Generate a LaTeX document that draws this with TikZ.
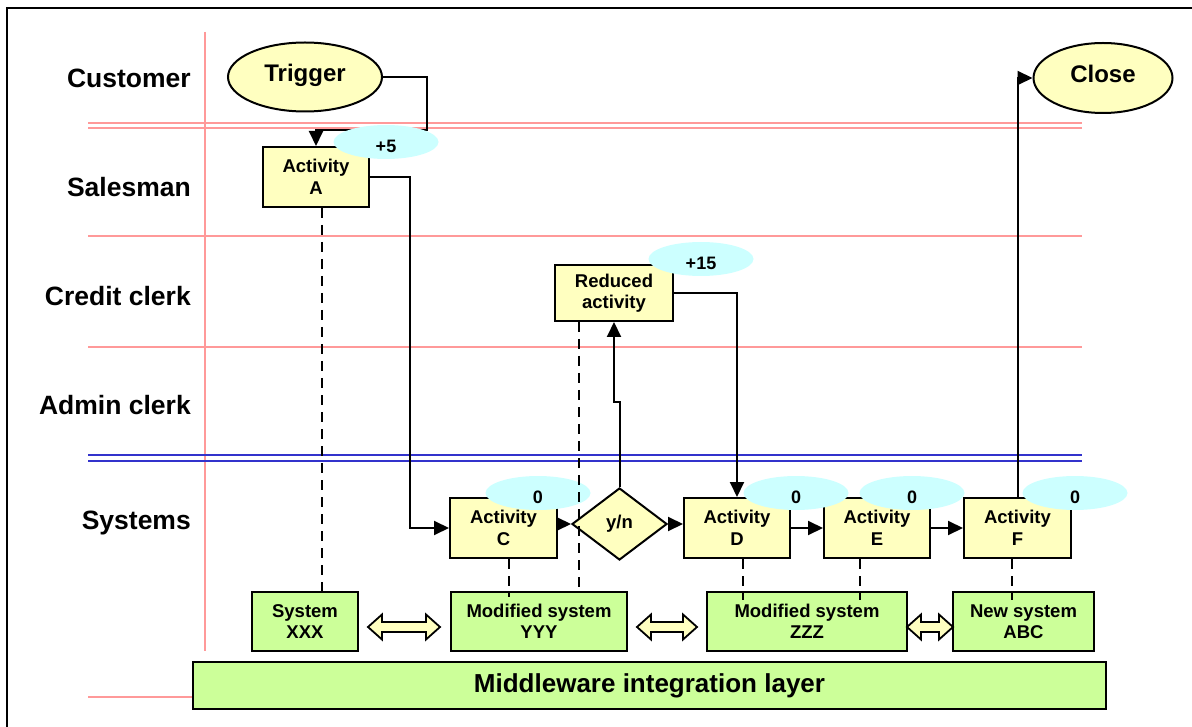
\documentclass[tikz,border=0pt]{standalone}
\usepackage{fontspec}
\setmainfont{Liberation Sans}
\usetikzlibrary{arrows.meta,shapes.geometric,calc}

\definecolor{lanepink}{RGB}{255,153,153}
\definecolor{laneblue}{RGB}{51,51,204}
\definecolor{actyellow}{RGB}{255,255,192}
\definecolor{sysgreen}{RGB}{204,255,153}
\definecolor{timecyan}{RGB}{204,255,255}

\tikzset{
  lane/.style={line width=2pt, lanepink},
  sysline/.style={line width=2.2pt, laneblue},
  lanelabel/.style={anchor=east, inner sep=0, font=\bfseries\fontsize{26.5}{30}\selectfont},
  actbox/.style={rectangle, draw, line width=2pt, fill=actyellow, align=center, inner sep=0,
    minimum width=106pt, minimum height=60pt,
    execute at begin node={\rule{0pt}{19.5pt}},
    font=\bfseries\fontsize{18.5}{21.5}\selectfont},
  event/.style={ellipse, draw, line width=2pt, fill=actyellow, inner sep=0,
    text height=17pt, text depth=7pt, font=\bfseries\fontsize{24}{28}\selectfont},
  decision/.style={diamond, draw, line width=2pt, fill=actyellow, inner sep=0,
    minimum width=95pt, minimum height=72pt, font=\bfseries\fontsize{18.5}{21.5}\selectfont},
  sysbox/.style={rectangle, draw, line width=2pt, fill=sysgreen, align=center, inner sep=0,
    minimum height=59pt, font=\bfseries\fontsize{18.5}{21.5}\selectfont},
  timetag/.style={ellipse, fill=timecyan, inner sep=0, minimum width=105pt, minimum height=34pt,
    text height=21pt, text depth=0pt, font=\bfseries\fontsize{18}{21}\selectfont},
  flow/.style={line width=2pt, -{Triangle[length=15pt,width=14pt]}},
  link/.style={line width=2.4pt, dash pattern=on 10pt off 7pt},
  fatarrow/.style={draw, line width=1.8pt, fill=actyellow, line join=miter}
}

\begin{document}
\begin{tikzpicture}[x=1pt,y=-1pt]
\useasboundingbox (0,0) rectangle (1192,727);

% outer frame
\draw[line width=1.5pt] (7,727) -- (7,8) -- (1192,8);

% swim lanes
\draw[lane] (205,32) -- (205,651);
\draw[lane] (88,123) -- (1082,123);
\draw[lane] (88,128) -- (1082,128);
\draw[lane] (88,236) -- (1082,236);
\draw[lane] (88,347) -- (1082,347);
\draw[sysline] (88,455) -- (1082,455);
\draw[sysline] (88,461) -- (1082,461);

\node[lanelabel] (lcust)  at (191,78)  {Customer};
\node[lanelabel] (lsales) at (191,187) {Salesman};
\node[lanelabel] (lcred)  at (191,296) {Credit clerk};
\node[lanelabel] (ladmin) at (191,405) {Admin clerk};
\node[lanelabel] (lsys)   at (191,523) {Systems};

% events
\node[event, minimum width=154pt, minimum height=69pt] (trig) at (305,77) {Trigger};
\node[event, minimum width=139pt, minimum height=70pt] (close) at (1103,78) {Close};

% activities
\node[actbox] (actA) at (316,177) {Activity\\A};
\node[actbox, minimum width=118pt, minimum height=56pt] (red) at (614,293) {Reduced\\activity};
\node[actbox, minimum width=107pt] (actC) at (503.5,528) {Activity\\C};
\node[decision] (yn) at (619.5,524) {y/n};
\node[actbox] (actD) at (737,528) {Activity\\D};
\node[actbox] (actE) at (877,528) {Activity\\E};
\node[actbox, minimum width=107pt] (actF) at (1017.5,528) {Activity\\F};

% systems
\node[sysbox, minimum width=106pt] (sysX) at (305,621.5) {System\\XXX};
\node[sysbox, minimum width=176pt] (sysY) at (539,621.5) {Modified system\\YYY};
\node[sysbox, minimum width=200pt] (sysZ) at (807,621.5) {Modified system\\ZZZ};
\node[sysbox, minimum width=141pt] (sysN) at (1023.5,621.5) {New system\\ABC};
\node[sysbox, minimum width=913pt, minimum height=47pt, font=\bfseries\fontsize{26}{30}\selectfont]
  (mid) at (649.5,685.5) {Middleware integration layer};
\draw[lane] (88,697) -- (mid.west |- 0,697);

% interfaces between systems (fat double arrows)
\draw[fatarrow] (368,627) -- (382,614.5) -- (382,622) -- (426,622) -- (426,614.5) -- (440,627)
  -- (426,639.5) -- (426,632) -- (382,632) -- (382,639.5) -- cycle;
\draw[fatarrow] (637,627) -- (651,614.5) -- (651,622) -- (683,622) -- (683,614.5) -- (697,627)
  -- (683,639.5) -- (683,632) -- (651,632) -- (651,639.5) -- cycle;
\draw[fatarrow] (907,627) -- (921,614.5) -- (921,622) -- (939,622) -- (939,614.5) -- (953,627)
  -- (939,639.5) -- (939,632) -- (921,632) -- (921,639.5) -- cycle;

% process flow
\draw[flow] (trig.east) -| (427,130) -| (actA.north);
\draw[flow] (actA.east) -| (410,528) -- (actC.west);
\draw[flow] (yn.west -| actC.east) -- (yn.west);
\draw[flow] (yn.east) -- (yn.east -| actD.west);
\draw[flow] (actD.east) -- (actE.west);
\draw[flow] (actE.east) -- (actF.west);
\draw[flow] (yn.north) -- ++(0,-85) -| (red.south);
\draw[flow] (red.east) -| (actD.north);
\draw[flow] (actF.north) |- (close.west);

% time tags
\node[timetag] (tA) at (386,142) {+5};
\node[timetag] (tR) at (701,259) {+15};
\node[timetag] (tC) at (538,493) {0};
\node[timetag] (tD) at (796,493) {0};
\node[timetag] (tE) at (912,493) {0};
\node[timetag] (tF) at (1075,493) {0};

% activity to system links
\draw[link] ([xshift=6pt]actA.south) -- ([xshift=6pt,yshift=-6pt]actA.south |- sysX.north);
\draw[link] ([xshift=-35pt]red.south) -- ([xshift=-35pt,yshift=-3pt]red.south |- sysY.north);
\draw[link] ([xshift=5.5pt]actC.south) -- ([xshift=5.5pt,yshift=-6pt]actC.south |- sysY.north);
\draw[link] ([xshift=6pt]actD.south) -- ([xshift=6pt,yshift=-9pt]actD.south |- sysZ.north);
\draw[link] ([xshift=-17pt]actE.south) -- ([xshift=-17pt,yshift=-9pt]actE.south |- sysZ.north);
\draw[link] ([xshift=-5.5pt]actF.south) -- ([xshift=-5.5pt,yshift=-9pt]actF.south |- sysN.north);
\end{tikzpicture}
\end{document}
